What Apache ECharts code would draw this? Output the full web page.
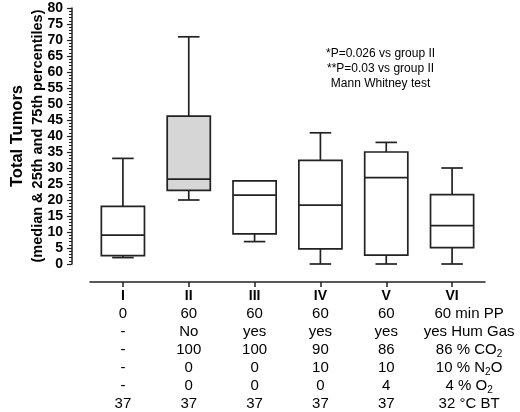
<!DOCTYPE html>
<html>
<head>
<meta charset="utf-8">
<script src="https://cdn.jsdelivr.net/npm/echarts@6/dist/echarts.min.js"></script>
<style>html,body{margin:0;padding:0;background:#fff}#c{width:520px;height:412px}</style>
</head>
<body>
<div id="c"></div>
<script>
// ---- data ----
var groups = ['I', 'II', 'III', 'IV', 'V', 'VI'];
var whiskerMin = [2, 20, 7, 0, 0, 0];
var q1 = [2.6, 23, 9.4, 4.7, 2.8, 5.1];
var median = [9, 26.5, 21.5, 18.4, 27, 12];
var q3 = [18, 46.2, 26, 32.4, 35, 21.7];
var whiskerMax = [33, 71, 26, 41, 38, 30];
var boxFill = ['#ffffff', '#d6d6d6', '#ffffff', '#ffffff', '#ffffff', '#ffffff'];
var sigGroupIdx = [0, 5];
var sigMarks = ['*', '**'];
var sigY = [37, 34.8];
var yTicks = [0, 80, 5];
var rowPP = ['0', '60', '60', '60', '60', '60 min PP'];
var rowHum = ['-', 'No', 'yes', 'yes', 'yes', 'yes Hum Gas'];
var rowCO2 = ['-', '100', '100', '90', '86', '86 % CO|2|'];
var rowN2O = ['-', '0', '0', '10', '10', '10 % N|2|O'];
var rowO2 = ['-', '0', '0', '0', '4', '4 % O|2|'];
var rowBT = ['37', '37', '37', '37', '37', '32 °C BT'];
var noteLines = ['*P=0.026 vs group II', '**P=0.03 vs group II', 'Mann Whitney test'];

var FONT = '"Liberation Sans", Arial, Helvetica, sans-serif';
var INK = '#222';

function cell(txt, isLast) {
  var parts = txt.split('|');
  var out = '';
  for (var i = 0; i < parts.length; i++) {
    if (parts[i] === '') continue;
    var sub = (i % 2 === 1);
    var st = sub ? 's' : (isLast && out === '' ? 'r' : 't');
    out += '{' + st + '|' + parts[i] + '}';
  }
  return out;
}

var boxData = groups.map(function (g, i) {
  return [i, whiskerMin[i], q1[i], median[i], q3[i], whiskerMax[i]];
});

var chart = echarts.init(document.getElementById('c'), null, {renderer: 'canvas'});
chart.setOption({
  animation: false,
  backgroundColor: '#fff',
  textStyle: {fontFamily: FONT},
  grid: {left: 90, right: 35, top: 8, bottom: 148, containLabel: false, outerBoundsMode: 'none'},
  xAxis: {
    type: 'category',
    data: groups,
    offset: 18,
    axisLine: {onZero: false, lineStyle: {color: INK, width: 1.5}},
    axisTick: {show: true, alignWithLabel: true, length: 5, lineStyle: {color: INK, width: 1.5}},
    axisLabel: {
      margin: 5,
      interval: 0,
      lineHeight: 18,
      formatter: function (v, i) {
        var last = (i === groups.length - 1);
        return '{b|' + v + '}\n' +
          [rowPP, rowHum, rowCO2, rowN2O, rowO2, rowBT].map(function (r) { return cell(r[i], last); }).join('\n');
      },
      rich: {
        b: {fontFamily: FONT, fontSize: 14, fontWeight: 'bold', color: '#000', lineHeight: 18},
        t: {fontFamily: FONT, fontSize: 15, color: '#000', lineHeight: 18},
        r: {fontFamily: FONT, fontSize: 15, color: '#000', lineHeight: 18, padding: [0, 0, 0, 34]},
        s: {fontFamily: FONT, fontSize: 10, color: '#000', lineHeight: 18, verticalAlign: 'bottom', padding: [6, 0, 0, 0]}
      }
    },
    splitLine: {show: false}
  },
  yAxis: {
    type: 'value',
    min: yTicks[0], max: yTicks[1], interval: yTicks[2],
    offset: 18,
    name: '{a|Total Tumors}\n{b|(median & 25th and 75th percentiles)}',
    nameLocation: 'middle',
    nameRotate: 90,
    nameGap: 25,
    nameMoveOverlap: false,
    nameTextStyle: {
      rich: {
        a: {fontFamily: FONT, fontSize: 16.5, fontWeight: 'bold', color: '#000', lineHeight: 21},
        b: {fontFamily: FONT, fontSize: 14.5, fontWeight: 'bold', color: '#000', lineHeight: 19}
      }
    },
    axisLine: {show: true, lineStyle: {color: INK, width: 1.5}},
    axisTick: {show: true, length: 5, lineStyle: {color: INK, width: 1.2}},
    minorTick: {show: true, splitNumber: 5, length: 3, lineStyle: {color: INK, width: 1}},
    axisLabel: {fontFamily: FONT, fontSize: 14, fontWeight: 'bold', color: '#000', margin: 9},
    splitLine: {show: false}
  },
  graphic: [{
    type: 'text',
    left: 386 - 60, top: 46,
    style: {
      text: noteLines.join('\n'),
      font: '12px ' + FONT,
      fill: '#000',
      textAlign: 'center',
      lineHeight: 15,
      x: 60
    }
  }],
  series: [{
    type: 'custom',
    coordinateSystem: 'cartesian2d',
    data: boxData,
    encode: {x: 0, y: [1, 2, 3, 4, 5]},
    renderItem: function (params, api) {
      var i = api.value(0);
      var bw = api.size([1, 0])[0] * 0.655;
      var cw = bw / 2;
      var pMin = api.coord([i, api.value(1)]);
      var pQ1 = api.coord([i, api.value(2)]);
      var pMed = api.coord([i, api.value(3)]);
      var pQ3 = api.coord([i, api.value(4)]);
      var pMax = api.coord([i, api.value(5)]);
      var x = pMin[0];
      var ls = {stroke: INK, lineWidth: 1.7, fill: null};
      var ch = [];
      ch.push({type: 'line', shape: {x1: x, y1: pQ1[1], x2: x, y2: pMin[1]}, style: ls});
      ch.push({type: 'line', shape: {x1: x - cw / 2, y1: pMin[1], x2: x + cw / 2, y2: pMin[1]}, style: ls});
      if (pMax[1] < pQ3[1] - 0.5) {
        ch.push({type: 'line', shape: {x1: x, y1: pQ3[1], x2: x, y2: pMax[1]}, style: ls});
        ch.push({type: 'line', shape: {x1: x - cw / 2, y1: pMax[1], x2: x + cw / 2, y2: pMax[1]}, style: ls});
      }
      ch.push({type: 'rect', shape: {x: x - bw / 2, y: pQ3[1], width: bw, height: pQ1[1] - pQ3[1]},
        style: {stroke: INK, lineWidth: 1.7, fill: boxFill[i]}});
      ch.push({type: 'line', shape: {x1: x - bw / 2, y1: pMed[1], x2: x + bw / 2, y2: pMed[1]}, style: ls});
      return {type: 'group', children: ch};
    },
    z: 2
  }, {
    type: 'scatter',
    data: sigGroupIdx.map(function (gi, k) { return [gi, sigY[k], sigMarks[k]]; }),
    symbolSize: 1,
    itemStyle: {opacity: 0},
    label: {
      show: true, position: 'inside',
      formatter: function (p) { return p.data[2]; },
      fontFamily: FONT, fontSize: 14, color: '#000'
    },
    z: 3
  }]
});
</script>
</body>
</html>
